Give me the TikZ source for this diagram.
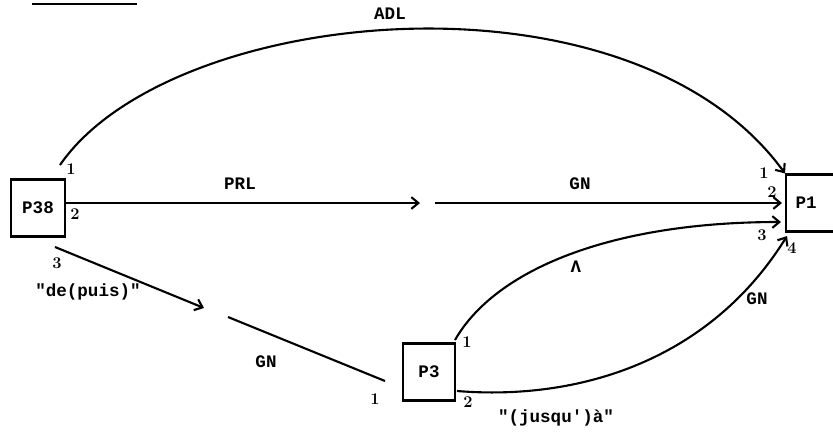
\documentclass[tikz,border=0pt]{standalone}
\usepackage{fontspec}
\setmonofont{Liberation Mono}
\usetikzlibrary{arrows.meta}

\begin{document}
\begin{tikzpicture}[x=0.03cm, y=-0.03cm,
    font=\ttfamily\bfseries\fontsize{15}{17}\selectfont,
    place/.style={draw, line width=1.8pt, minimum width=1.6cm, minimum height=1.71cm, inner sep=0pt},
    link/.style={line width=1.8pt},
    linkto/.style={line width=1.8pt, -{Straight Barb[length=6pt, width=10pt, line width=1.8pt]}},
    num/.style={font=\rmfamily\bfseries\fontsize{14}{15}\selectfont, inner sep=0pt}]
\useasboundingbox (0,0) rectangle (833,436);

% --- heading rule (text cut off above) ---
\draw[line width=2.4pt] (32,4) -- (137,4);

% --- Places ---
\node[place] (P38) at (38,208) {P38};
\node[place, minimum width=1.56cm] (P3) at (429,372) {P3};
\node[place, anchor=west, minimum width=2.1cm] (P1) at (785,203) {P1\hspace*{0.9cm}};

% --- Free ends ---
\coordinate (a1) at (60,165);
\coordinate (b2) at (420,203);
\coordinate (c2) at (435,203);
\coordinate (a3) at (55,247);
\coordinate (b3) at (204,308);
\coordinate (c3) at (228,317);
\coordinate (d3) at (385,381);
\coordinate (p3a) at (455,340);
\coordinate (p3b) at (457,391);
\coordinate (in2) at (782,203);
\coordinate (in3) at (781,222);
\coordinate (in4) at (787,236);

% --- Arcs ---
\draw[linkto] (a1) .. controls (170,5) and (630,-40) .. (P1.north west);
\draw[linkto] (P38.east |- b2) -- (b2);
\draw[linkto] (c2) -- (in2);
\draw[linkto] (a3) -- (b3);
\draw[link] (c3) -- (d3);
\draw[linkto] (p3a) .. controls (495,270) and (610,222) .. (in3);
\draw[linkto] (p3b) .. controls (580,401) and (710,360) .. (in4);

% --- Arc labels ---
\node (adl) at (390,14) {ADL};
\node (prl) at (240,184) {PRL};
\node (gn1) at (580,184) {GN};
\node (depuis) at (88,292) {"de(puis)"};
\node (gn2) at (266,362) {GN};
\node (lam) at (576,267) {Λ};
\node (gn3) at (757,299) {GN};
\node (jusqua) at (556,418) {"(jusqu')à"};

% --- Port numbers ---
\node[num] at (71,169) {1};
\node[num] at (75,214) {2};
\node[num] at (57,263) {3};
\node[num] at (764,173) {1};
\node[num] at (772,192) {2};
\node[num] at (762,235) {3};
\node[num] at (792,248) {4};
\node[num] at (467,342) {1};
\node[num] at (468,402) {2};
\node[num] at (375,399) {1};
\end{tikzpicture}
\end{document}
